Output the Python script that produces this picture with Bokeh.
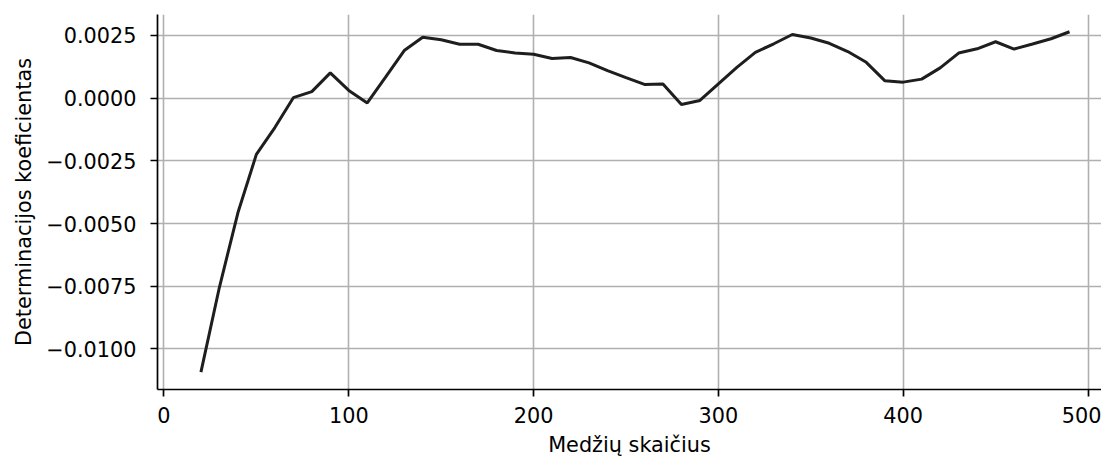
from bokeh.plotting import figure
from bokeh.models import Range1d, FixedTicker, CustomJSTickFormatter
from bokeh.embed import file_html
from bokeh.resources import INLINE

# Data
trees = [20, 30, 40, 50, 60, 70, 80, 90, 100, 110, 120, 130, 140, 150, 160, 170,
         180, 190, 200, 210, 220, 230, 240, 250, 260, 270, 280, 290, 300, 310, 320,
         330, 340, 350, 360, 370, 380, 390, 400, 410, 420, 430, 440, 450, 460, 470,
         480, 490]
r2 = [-0.01092, -0.00754, -0.00457, -0.00224, -0.00117, 0.00002, 0.00026, 0.00101,
      0.00031, -0.00019, 0.00085, 0.00190, 0.00243, 0.00233, 0.00215, 0.00215,
      0.00190, 0.00180, 0.00175, 0.00158, 0.00162, 0.00141, 0.00110, 0.00082,
      0.00055, 0.00057, -0.00025, -0.00009, 0.00057, 0.00123, 0.00183, 0.00217,
      0.00254, 0.00240, 0.00219, 0.00186, 0.00143, 0.00070, 0.00064, 0.00076,
      0.00121, 0.00180, 0.00197, 0.00225, 0.00196, 0.00216, 0.00237, 0.00265]
x_ticks = [0, 100, 200, 300, 400, 500]
y_ticks = [-0.01, -0.0075, -0.005, -0.0025, 0.0, 0.0025]
x_label = "Medžių skaičius"
y_label = "Determinacijos koeficientas"

FONT = "DejaVu Sans"
FS = "20.8px"

p = figure(width=1101, height=459, output_backend="svg", toolbar_location=None,
           min_border_left=157, min_border_right=0, min_border_top=14,
           min_border_bottom=70,
           x_range=Range1d(-3.5, 507.3), y_range=Range1d(-0.011615, 0.003337))
p.outline_line_color = None
p.background_fill_color = "white"
p.border_fill_color = "white"

p.line(trees, r2, line_color="#1e1e1e", line_width=3)

p.xaxis.ticker = FixedTicker(ticks=x_ticks)
p.yaxis.ticker = FixedTicker(ticks=y_ticks)
p.yaxis.formatter = CustomJSTickFormatter(
    code='return (tick < -1e-12 ? "\\u2212" : "") + Math.abs(tick).toFixed(4);')

p.xaxis.axis_label = x_label
p.yaxis.axis_label = y_label

for ax in (p.xaxis, p.yaxis):
    ax.axis_line_color = "black"
    ax.axis_line_width = 1.7
    ax.major_tick_line_color = "black"
    ax.major_tick_line_width = 1.7
    ax.major_tick_out = 7
    ax.major_tick_in = 0
    ax.minor_tick_line_color = None
    ax.major_label_text_font = FONT
    ax.major_label_text_font_size = FS
    ax.major_label_text_color = "black"
    ax.axis_label_text_font = FONT
    ax.axis_label_text_font_size = FS
    ax.axis_label_text_font_style = "normal"
    ax.axis_label_text_color = "black"

p.xaxis.major_label_standoff = 10
p.xaxis.axis_label_standoff = 7
p.yaxis.major_label_standoff = 14
p.yaxis.axis_label_standoff = 7

p.xgrid.ticker = FixedTicker(ticks=x_ticks)
p.ygrid.ticker = FixedTicker(ticks=y_ticks)
for g in (p.xgrid, p.ygrid):
    g.grid_line_color = "#b0b0b0"
    g.grid_line_width = 1.6

open("out.html", "w").write(file_html(p, INLINE))
